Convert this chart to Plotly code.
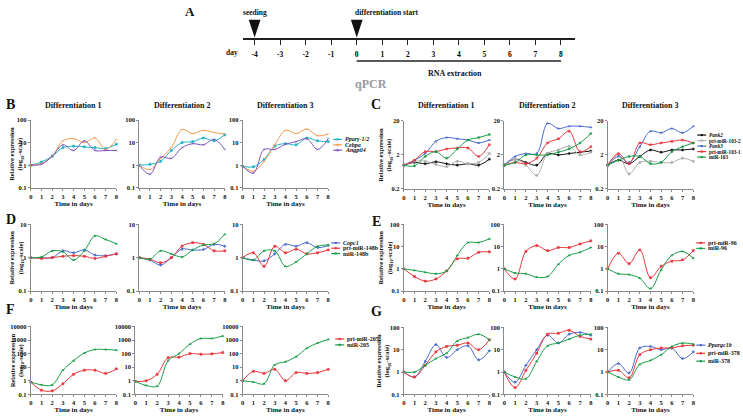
import math
import plotly.graph_objects as go

W, H = 743, 416
FONT = "Liberation Serif"

days = [0, 1, 2, 3, 4, 5, 6, 7, 8]
timeline_days = list(range(-4, 9))

# ---------- Panel B ----------
B_names = ["<i>Pparγ-1/2</i>", "<i>Cebpa</i>", "<i>Angptl4</i>"]
B1_pparg = [1, 1.4, 2.5, 6, 7, 6.5, 6, 5.5, 8.5]
B1_cebpa = [1, 1.2, 2.5, 12, 15, 10, 16, 5, 14]
B1_angptl4 = [1, 1.1, 2.5, 8, 4.5, 12, 4.5, 4.5, 4.5]
B2_pparg = [1, 1.1, 1.5, 4.5, 10, 11, 16, 12, 22]
B2_cebpa = [1, 0.65, 2, 6, 38, 25, 35, 28, 24]
B2_angptl4 = [1, 0.4, 2.3, 2, 6, 9, 8, 14, 5]
B3_pparg = [0.9, 0.85, 1.8, 7, 9, 8, 16, 12, 11]
B3_cebpa = [0.9, 0.55, 1.5, 8, 35, 25, 40, 20, 24]
B3_angptl4 = [0.9, 0.45, 5, 5, 8.5, 11, 15, 5, 15]

# ---------- Panel C ----------
C_names = ["<i>Pank2</i>", "pri-miR-103-2", "<i>Pank3</i>", "pri-miR-103-1", "miR-103"]
C1_pank2 = [1, 1.2, 1.1, 1.25, 1.1, 1.0, 1.1, 1.0, 1.5]
C1_pri1032 = [1, 1.3, 1.3, 1.05, 0.9, 1.3, 1.1, 1.2, 2.2]
C1_pank3 = [1, 1.4, 2.2, 5, 6.5, 6.0, 5.5, 4.5, 5.5]
C1_pri1031 = [1, 1.4, 2.5, 2.5, 3, 3.2, 3.2, 1.8, 4]
C1_mir103 = [1, 0.95, 1.8, 2.5, 1.6, 3, 5.5, 6.5, 8]
C2_pank2 = [1, 1.5, 1.2, 1.0, 2.2, 2.0, 2.2, 2.4, 2.6]
C2_pri1032 = [1, 1.5, 1.0, 0.5, 2.2, 2.8, 3.6, 2.0, 2.4]
C2_pank3 = [1, 1.8, 2.2, 2.2, 17, 12, 14, 14, 13]
C2_pri1031 = [1, 1.2, 1.1, 1.6, 4.5, 6, 10, 2.5, 3.5]
C2_mir103 = [1, 1.2, 2, 2, 2, 2.4, 3, 4.5, 8.5]
C3_pank2 = [1, 1.4, 1.1, 1.8, 2.8, 2.4, 2.8, 2.8, 3]
C3_pri1032 = [1, 2.0, 0.55, 1.2, 1.3, 1.2, 1.2, 1.6, 1.3]
C3_pank3 = [1, 1.8, 1.2, 3.5, 10, 9, 12, 9, 14]
C3_pri1031 = [1, 2.2, 1.1, 4.5, 4, 4.5, 5, 5.5, 4.5]
C3_mir103 = [1, 1.4, 1.8, 1.8, 1.1, 1.2, 2.5, 3.5, 4.5]

# ---------- Panel D ----------
D_names = ["<i>Copc1</i>", "pri-miR-148b", "miR-148b"]
D1_copc1 = [1, 1, 1, 1.6, 1.4, 1.7, 1.2, 1.15, 1.3]
D1_pri = [1, 0.95, 1, 1.1, 1.15, 1.1, 0.95, 1.1, 1.3]
D1_mir = [1, 1.05, 1.6, 1.5, 0.85, 1.6, 4.5, 3.5, 2.6]
D2_copc1 = [1, 0.85, 0.6, 1.0, 1.8, 1.7, 1.75, 2.5, 2.2]
D2_pri = [1, 0.9, 0.7, 1.0, 2.2, 2.8, 2.5, 1.6, 1.6]
D2_mir = [1, 0.9, 1.6, 1.3, 1.05, 1.7, 2.4, 2.6, 5]
D3_copc1 = [1, 0.85, 0.8, 1.3, 2.5, 2.2, 2.8, 2.0, 2.3]
D3_pri = [1, 1.4, 0.55, 2.2, 1.4, 1.8, 1.3, 1.4, 1.7]
D3_mir = [1, 0.85, 1.6, 1.6, 0.55, 0.75, 1.3, 2.2, 2.4]

# ---------- Panel E ----------
E_names = ["pri-miR-96", "miR-96"]
E1_pri = [1, 0.45, 0.28, 0.35, 0.8, 2.8, 3, 5.5, 5.8]
E1_mir = [1, 0.85, 0.7, 0.6, 0.8, 4, 15, 15, 22]
E2_pri = [1, 0.35, 6, 11, 6.5, 9, 9, 13, 18]
E2_mir = [1, 0.65, 0.6, 0.42, 0.45, 1.6, 4, 5.5, 9]
E3_pri = [1, 5, 1.7, 7, 0.4, 1.3, 2.2, 2.5, 6.5]
E3_mir = [1, 0.6, 0.55, 0.38, 0.13, 0.9, 4, 6, 3]

# ---------- Panel F ----------
F_names = ["pri-miR-205", "miR-205"]
F1_pri = [0.8, 0.2, 0.18, 0.6, 3, 6, 6, 3.5, 7.5]
F1_mir = [0.8, 0.5, 0.5, 6, 30, 110, 200, 200, 180]
F2_pri = [0.9, 1, 3, 50, 55, 100, 90, 95, 120]
F2_mir = [0.9, 0.45, 0.4, 30, 100, 500, 1300, 1300, 2000]
F3_pri = [1, 5, 3.5, 7, 1, 4, 3.5, 4, 7]
F3_mir = [1, 0.8, 0.6, 15, 25, 60, 250, 600, 1100]

# ---------- Panel G ----------
G_names = ["<i>Ppargc1b</i>", "pri-miR-378", "miR-378"]
G1_ppargc1b = [1, 0.6, 3, 17, 4.5, 10, 15, 3.5, 9]
G1_pri = [1, 0.6, 2, 8, 14, 16, 20, 10, 28]
G1_mir = [1, 1, 2, 4, 7, 25, 35, 50, 28]
G2_ppargc1b = [1, 0.35, 2, 10, 45, 20, 50, 60, 45]
G2_pri = [1, 0.2, 1.2, 7, 50, 55, 75, 40, 30]
G2_mir = [1, 0.6, 0.5, 3, 15, 20, 30, 45, 50]
G3_ppargc1b = [1, 2.4, 0.9, 12, 14, 10, 12, 4, 8]
G3_pri = [1, 1.2, 0.55, 6, 10, 12, 12, 15, 16]
G3_mir = [1, 0.6, 0.45, 2.2, 3.3, 6, 14, 20, 18]

# ---------- styling ----------
TEAL, ORANGE, PURPLE = "#22B5C8", "#F39A4E", "#7E57C2"
BLACK, GRAY, BLUE, RED, GREEN = "#111111", "#B0B0B0", "#4A6CD0", "#E8373E", "#1A9E4A"
AXC = "#8A8A8A"


def fx(p):
    return p / W


def fy(p):
    return 1 - p / H


LX = [(29, 115), (138, 224), (242, 328)]
FX = [(29, 115), (134, 222), (242, 328)]
RX = [(404, 490), (505, 592), (609, 695)]

rows = {
    "B": dict(cols=LX, y=(118, 187), lo=0.1, hi=100,
              series=[[B1_pparg, B1_cebpa, B1_angptl4], [B2_pparg, B2_cebpa, B2_angptl4], [B3_pparg, B3_cebpa, B3_angptl4]],
              names=B_names, colors=[TEAL, ORANGE, PURPLE], sym=["square", "line-ew-open", "x-thin-open"],
              titles=True),
    "C": dict(cols=RX, y=(119, 188), lo=0.2, hi=20,
              series=[[C1_pank2, C1_pri1032, C1_pank3, C1_pri1031, C1_mir103],
                      [C2_pank2, C2_pri1032, C2_pank3, C2_pri1031, C2_mir103],
                      [C3_pank2, C3_pri1032, C3_pank3, C3_pri1031, C3_mir103]],
              names=C_names, colors=[BLACK, GRAY, BLUE, RED, GREEN], sym=["diamond", "square", "triangle-up", "x", "circle"],
              titles=True),
    "D": dict(cols=LX, y=(224, 292), lo=0.1, hi=10,
              series=[[D1_copc1, D1_pri, D1_mir], [D2_copc1, D2_pri, D2_mir], [D3_copc1, D3_pri, D3_mir]],
              names=D_names, colors=[BLUE, RED, GREEN], sym=["diamond", "square", "triangle-up"],
              titles=False),
    "E": dict(cols=RX, y=(224, 292), lo=0.1, hi=100,
              series=[[E1_pri, E1_mir], [E2_pri, E2_mir], [E3_pri, E3_mir]],
              names=E_names, colors=[RED, GREEN], sym=["square", "triangle-up"],
              titles=False),
    "F": dict(cols=FX, y=(328, 397), lo=0.1, hi=10000,
              series=[[F1_pri, F1_mir], [F2_pri, F2_mir], [F3_pri, F3_mir]],
              names=F_names, colors=[RED, GREEN], sym=["square", "triangle-up"],
              titles=False),
    "G": dict(cols=RX, y=(329, 397), lo=0.1, hi=100,
              series=[[G1_ppargc1b, G1_pri, G1_mir], [G2_ppargc1b, G2_pri, G2_mir], [G3_ppargc1b, G3_pri, G3_mir]],
              names=G_names, colors=[BLUE, RED, GREEN], sym=["diamond", "square", "triangle-up"],
              titles=False),
}

legend_pos = {
    "B": (333, [137.7, 143.2, 148.7]),
    "C": (699, [133.3, 138.9, 144.5, 150.1, 155.7]),
    "D": (331, [243, 248.4, 253.8]),
    "E": (698, [243, 248.6]),
    "F": (335, [340.7, 346.7]),
    "G": (698, [347, 355.3, 363.3]),
}
letters = {"B": (9, 102), "C": (376, 102), "D": (9, 219), "E": (377, 221), "F": (9, 311), "G": (377, 313)}
ylab_x = {"B": 15, "C": 386, "D": 15, "E": 386, "F": 15, "G": 384}


def fmt(v):
    return "%g" % v


def ann(text, x, y, size, xref="paper", xanchor="center", color="#111", angle=0, xshift=0):
    return dict(text=text, x=x, y=y, xref=xref, yref="paper", showarrow=False,
                xanchor=xanchor, yanchor="middle", textangle=angle, xshift=xshift,
                font=dict(family=FONT, size=size, color=color))


fig = go.Figure()
layout = dict(width=W, height=H, margin=dict(l=0, r=0, t=0, b=0),
              paper_bgcolor="white", plot_bgcolor="rgba(0,0,0,0)", showlegend=False,
              hovermode=False, font=dict(family=FONT, color="#111"))
annotations = []
shapes = []

n = 0
for key, r in rows.items():
    y0, y1 = r["y"]
    decs = []
    v = r["lo"]
    while v <= r["hi"] * 1.0001:
        decs.append(v)
        v *= 10
    for ci, (xa, xb) in enumerate(r["cols"]):
        n += 1
        xn = "xaxis" if n == 1 else "xaxis%d" % n
        yn = "yaxis" if n == 1 else "yaxis%d" % n
        xr = "x" if n == 1 else "x%d" % n
        yr = "y" if n == 1 else "y%d" % n
        layout[xn] = dict(domain=[fx(xa), fx(xb)], range=[0, 8], anchor=yr,
                          tickvals=days, ticktext=["<b>%d</b>" % d for d in days],
                          showline=True, linecolor=AXC, linewidth=1, ticks="outside",
                          ticklen=2, tickcolor=AXC, showgrid=False, zeroline=False,
                          tickfont=dict(family=FONT, size=6.5, color="#111"),
                          title=dict(text="<b>Time in days</b>",
                                     font=dict(family=FONT, size=7, color="#111"), standoff=1))
        layout[yn] = dict(domain=[fy(y1), fy(y0)], type="log",
                          range=[math.log10(r["lo"]), math.log10(r["hi"])], anchor=xr,
                          tickvals=decs, ticktext=["<b>%s</b>" % fmt(d) for d in decs],
                          showline=True, linecolor=AXC, linewidth=1, ticks="outside",
                          ticklen=2, tickcolor=AXC, showgrid=False, zeroline=False,
                          tickfont=dict(family=FONT, size=6.5, color="#111"))
        for si, vals in enumerate(r["series"][ci]):
            fig.add_trace(go.Scatter(
                x=days, y=vals, mode="lines+markers", xaxis=xr, yaxis=yr,
                line=dict(color=r["colors"][si], width=1, shape="spline", smoothing=1),
                marker=dict(color=r["colors"][si], size=2, symbol=r["sym"][si],
                            line=dict(color=r["colors"][si], width=0.6)),
                cliponaxis=False, showlegend=False, name=r["names"][si]))
        if r["titles"]:
            annotations.append(ann("<b>Differentiation %d</b>" % (ci + 1), fx((xa + xb) / 2), fy(103), 8))
    lx, ly = letters[key]
    annotations.append(ann("<b>%s</b>" % key, fx(lx), fy(ly), 14))
    annotations.append(ann("<b>Relative expression<br>(log<sub>10</sub>-scale)</b>",
                           fx(ylab_x[key]), fy((y0 + y1) / 2), 6.5, angle=-90))
    lgx, lgys = legend_pos[key]
    lsize = 5.2 if key == "C" else 6
    for si, name in enumerate(r["names"]):
        ly_ = lgys[si]
        shapes.append(dict(type="line", xref="paper", yref="paper", x0=fx(lgx), x1=fx(lgx + 9),
                           y0=fy(ly_), y1=fy(ly_), line=dict(color=r["colors"][si], width=1.2)))
        shapes.append(dict(type="rect", xref="paper", yref="paper", x0=fx(lgx + 3.4), x1=fx(lgx + 5.6),
                           y0=fy(ly_ + 1.1), y1=fy(ly_ - 1.1), line=dict(width=0),
                           fillcolor=r["colors"][si]))
        annotations.append(ann("<b>%s</b>" % name, fx(lgx + 10), fy(ly_), lsize, xanchor="left"))

# ---------- Panel A: timeline ----------
n += 1
tx = "x%d" % n
ty = "y%d" % n
px_per_day = (562 - 254) / 12.0
left_day = -4 - (254 - 242) / px_per_day
right_day = 8 + (576 - 562) / px_per_day
LINE_Y = 35
layout["xaxis%d" % n] = dict(domain=[fx(242), fx(576)], range=[left_day, right_day], anchor=ty,
                             tickvals=timeline_days, ticktext=["<b>%d</b>" % d for d in timeline_days],
                             showline=True, linecolor="#222", linewidth=1.5, ticks="outside",
                             ticklen=5, tickwidth=1, tickcolor="#222", showgrid=False, zeroline=False,
                             ticklabelstandoff=3,
                             tickfont=dict(family=FONT, size=7.5, color="#000"))
layout["yaxis%d" % n] = dict(domain=[fy(LINE_Y), fy(10)], range=[0, 1], anchor=tx, visible=False)
fig.add_trace(go.Scatter(x=[], y=[], xaxis=tx, yaxis=ty, showlegend=False))

for d in (-4, 0):
    shapes.append(dict(type="path", xref=tx, yref="paper",
                       path="M %f,%f L %f,%f L %f,%f Z" % (d - 0.23, fy(16), d + 0.23, fy(16), d, fy(34)),
                       fillcolor="#111", line=dict(width=0)))
shapes.append(dict(type="line", xref=tx, yref="paper", x0=0, x1=8, y0=fy(58), y1=fy(58),
                   line=dict(color="#222", width=1.5)))

annotations += [
    ann("<b>A</b>", fx(189), fy(8), 13),
    ann("<b>seeding</b>", -4, fy(9), 7.5, xref=tx),
    ann("<b>differentiation start</b>", 0, fy(9), 7.5, xref=tx, xanchor="left", xshift=-4),
    ann("<b>day</b>", fx(231), fy(49), 7.5),
    ann("<b>RNA extraction</b>", fx(455), fy(71), 8),
    ann("<b>qPCR</b>", fx(371), fy(81), 12, color="#9A9A9A"),
]

layout["annotations"] = annotations
layout["shapes"] = shapes
fig.update_layout(**layout)
fig.write_html("out.html", config={"displayModeBar": False, "staticPlot": True},
               post_script="document.body.style.margin='0';document.body.style.overflow='hidden';")
